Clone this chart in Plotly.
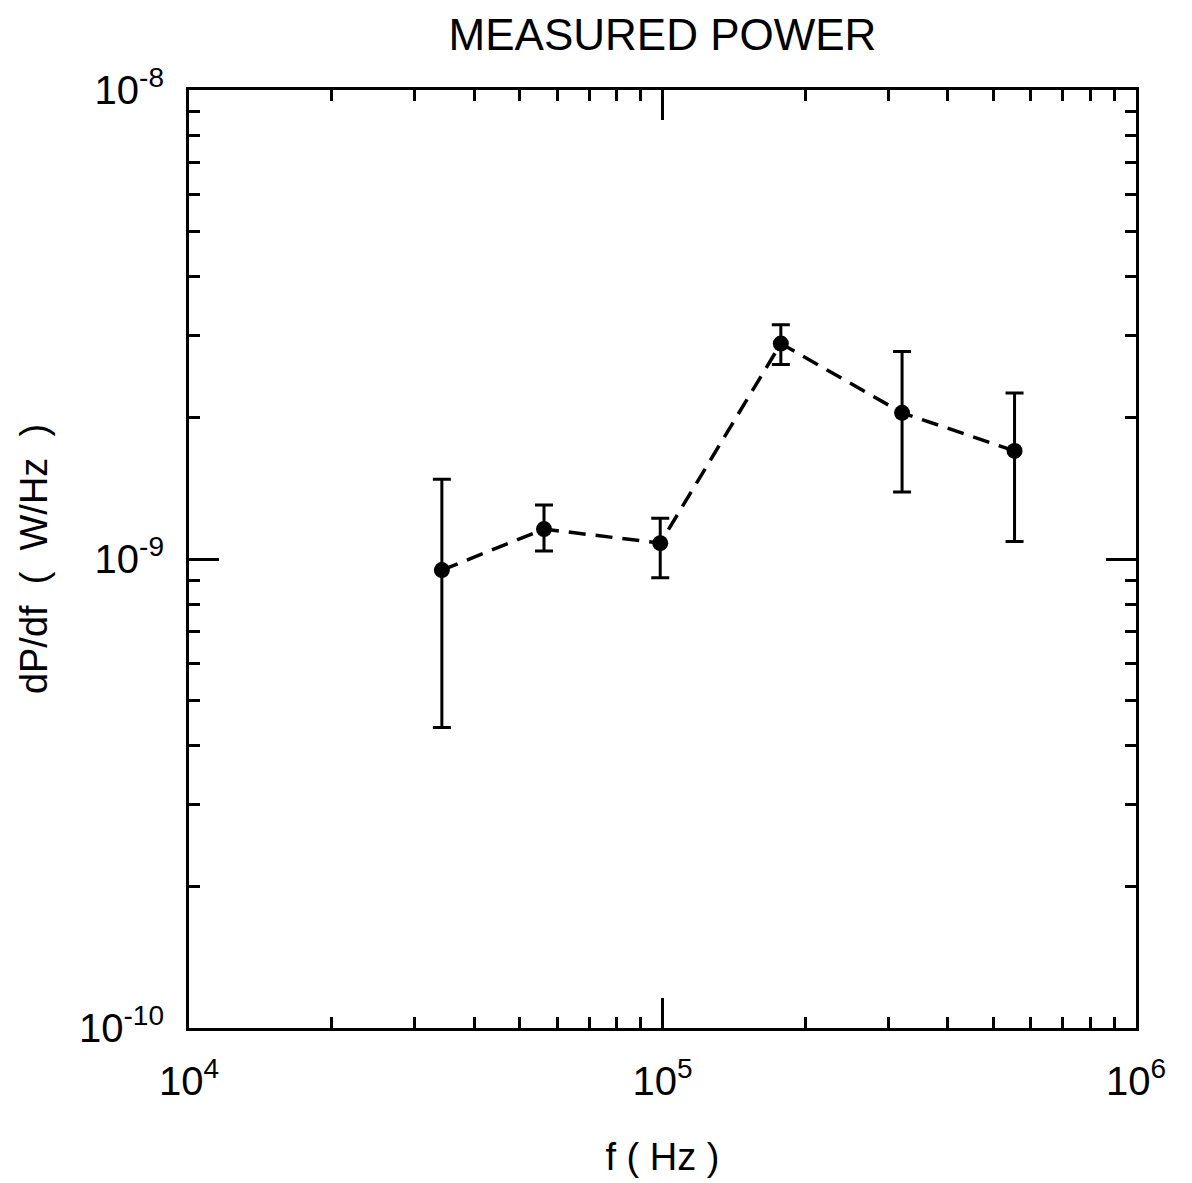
import plotly.graph_objects as go

# Data
freq_hz = [34200, 56200, 98900, 177800, 320600, 554000]
power = [9.47e-10, 1.158e-9, 1.081e-9, 2.88e-9, 2.05e-9, 1.70e-9]
power_hi = [1.479e-9, 1.303e-9, 1.222e-9, 3.16e-9, 2.77e-9, 2.26e-9]
power_lo = [4.37e-10, 1.040e-9, 9.12e-10, 2.60e-9, 1.39e-9, 1.09e-9]

x_major = [1e4, 1e5, 1e6]
x_major_labels = ["10<sup>4</sup>", "10<sup>5</sup>", "10<sup>6</sup>"]
y_major = [1e-10, 1e-9, 1e-8]
y_major_labels = ["10<sup>-10</sup>", "10<sup>-9</sup>", "10<sup>-8</sup>"]
minor_mult = [2, 3, 4, 5, 6, 7, 8, 9]
x_minor = [m * 10.0 ** e for e in (4, 5) for m in minor_mult]
y_minor = [m * 10.0 ** e for e in (-10, -9) for m in minor_mult]

err_plus = [h - p for h, p in zip(power_hi, power)]
err_minus = [p - l for p, l in zip(power, power_lo)]

FONT = "Liberation Sans"
BLACK = "#000000"

fig = go.Figure()
fig.add_trace(go.Scatter(
    x=freq_hz, y=power, mode="lines+markers",
    line=dict(color=BLACK, width=3.5, dash="17px,10px"),
    marker=dict(color=BLACK, size=16),
    error_y=dict(type="data", symmetric=False, array=err_plus, arrayminus=err_minus,
                 color=BLACK, thickness=3, width=9),
    showlegend=False,
))

axis_common = dict(
    showline=True, linecolor=BLACK, linewidth=3, mirror="ticks",
    ticks="inside", ticklen=30, tickwidth=3, tickcolor=BLACK,
    showgrid=False, zeroline=False,
    tickfont=dict(family=FONT, size=40, color=BLACK),
)

fig.update_xaxes(
    type="log", range=[4, 6], tickmode="array", tickvals=x_major, ticktext=x_major_labels,
    minor=dict(tickmode="array", tickvals=x_minor, ticks="inside", ticklen=11,
               tickwidth=3, tickcolor=BLACK, showgrid=False),
    title=dict(text="f\u00a0(\u00a0Hz\u00a0)", font=dict(family=FONT, size=38, color=BLACK), standoff=42),
    ticklabelstandoff=16,
    **axis_common,
)
fig.update_yaxes(
    type="log", range=[-10, -8], tickmode="array", tickvals=y_major, ticktext=y_major_labels,
    minor=dict(tickmode="array", tickvals=y_minor, ticks="inside", ticklen=11,
               tickwidth=3, tickcolor=BLACK, showgrid=False),
    title=dict(text="dP/df\u00a0\u00a0(\u00a0\u00a0W/Hz\u00a0\u00a0)", font=dict(family=FONT, size=38, color=BLACK), standoff=20),
    ticklabelstandoff=14,
    **axis_common,
)

fig.update_layout(
    width=1192, height=1183,
    margin=dict(l=181, r=64, t=82, b=163, autoexpand=False),
    paper_bgcolor="white", plot_bgcolor="white",
    title=dict(text="MEASURED POWER", x=0.5, xref="paper", xanchor="center",
               y=1 - 27 / 1183, yref="container", yanchor="middle",
               font=dict(family=FONT, size=44, color=BLACK)),
)

fig.write_html("out.html")
